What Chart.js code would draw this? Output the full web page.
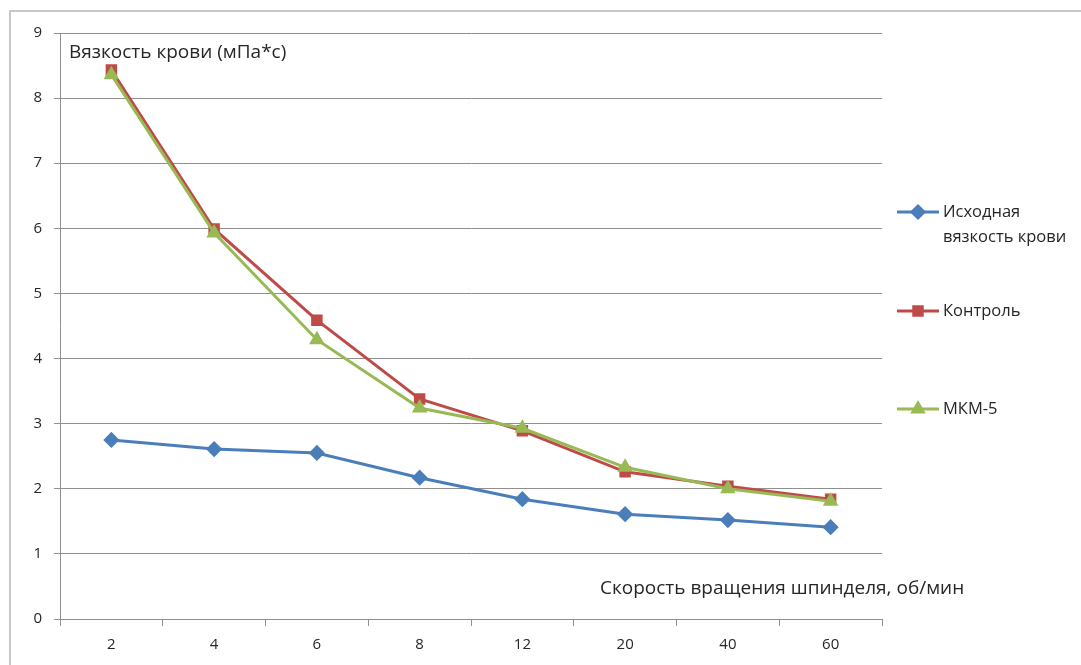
<!DOCTYPE html>
<html>
<head>
<meta charset="utf-8">
<script src="https://cdn.jsdelivr.net/npm/chart.js@4/dist/chart.umd.min.js"></script>
<style>
  html, body { margin: 0; padding: 0; background: #fff; }
  #wrap { width: 1081px; height: 665px; }
</style>
</head>
<body>
<div id="wrap"><canvas id="chart"></canvas></div>
<script>
// spindle speed, rpm
const speeds = ['2', '4', '6', '8', '12', '20', '40', '60'];

const initial = [2.75, 2.61, 2.55, 2.17, 1.84, 1.61, 1.52, 1.41];
const control = [8.43, 5.99, 4.59, 3.38, 2.89, 2.26, 2.04, 1.84];
const mkm5 = [8.36, 5.93, 4.29, 3.24, 2.93, 2.33, 2.00, 1.81];

const seriesNames = [['Исходная', 'вязкость крови'], ['Контроль'], ['МКМ-5']];
const yTicks = [0, 1, 2, 3, 4, 5, 6, 7, 8, 9];

const yTitle = 'Вязкость крови (мПа*с)';
const xTitle = 'Скорость вращения шпинделя, об/мин';

const FONT = '"Open Sans", Lato, sans-serif';
const gridGray = '#8f8f8f';

// frame lines + axis titles + legend (Excel style)
const extras = {
    id: 'extras',
    beforeDraw(chart) {
        const ctx = chart.ctx;
        ctx.save();
        ctx.strokeStyle = '#c8c8c8';
        ctx.lineWidth = 2;
        ctx.beginPath();
        ctx.moveTo(10, chart.height);
        ctx.lineTo(10, 11);
        ctx.lineTo(chart.width, 11);
        ctx.stroke();
        ctx.restore();
    },
    afterDraw(chart) {
        const ctx = chart.ctx;
        const area = chart.chartArea;
        ctx.save();
        ctx.fillStyle = '#262626';
        ctx.font = '19px ' + FONT;
        ctx.textBaseline = 'middle';
        ctx.textAlign = 'left';
        ctx.fillText(yTitle, area.left + 9, 53);
        ctx.fillText(xTitle, 600, 589);

        // legend
        const rows = [212, 311, 409];
        ctx.font = '16.5px ' + FONT;
        chart.data.datasets.forEach(function (ds, i) {
            const y = rows[i];
            const x0 = area.right + 15;
            ctx.strokeStyle = ds.borderColor;
            ctx.lineWidth = 3;
            ctx.beginPath();
            ctx.moveTo(x0, y);
            ctx.lineTo(x0 + 42, y);
            ctx.stroke();
            ctx.fillStyle = ds.borderColor;
            ctx.strokeStyle = ds.borderColor;
            Chart.helpers.drawPoint(ctx, {
                pointStyle: ds.pointStyle,
                radius: ds.pointRadius,
                rotation: 0,
                borderWidth: 1
            }, x0 + 21, y);
            ctx.fillStyle = '#262626';
            seriesNames[i].forEach(function (line, k) {
                ctx.fillText(line, x0 + 46, y + k * 25);
            });
        });
        ctx.restore();
    }
};

new Chart(document.getElementById('chart'), {
    type: 'line',
    data: {
        labels: speeds,
        datasets: [
            {
                label: seriesNames[0].join(' '),
                data: initial,
                borderColor: '#4a7ebb',
                backgroundColor: '#4a7ebb',
                pointStyle: 'rectRot',
                pointRadius: 6,
                borderWidth: 3,
                order: 3
            },
            {
                label: seriesNames[1].join(' '),
                data: control,
                borderColor: '#be4b48',
                backgroundColor: '#be4b48',
                pointStyle: 'rect',
                pointRadius: 6,
                borderWidth: 3,
                order: 2
            },
            {
                label: seriesNames[2].join(' '),
                data: mkm5,
                borderColor: '#98b954',
                backgroundColor: '#98b954',
                pointStyle: 'triangle',
                pointRadius: 6,
                borderWidth: 3,
                order: 1
            }
        ]
    },
    options: {
        responsive: true,
        maintainAspectRatio: false,
        animation: false,
        layout: { padding: { top: 33, right: 199, bottom: 0, left: 0 } },
        plugins: {
            legend: { display: false },
            tooltip: { enabled: false }
        },
        scales: {
            x: {
                offset: true,
                afterFit(scale) { scale.height = 46; },
                grid: {
                    offset: true,
                    drawOnChartArea: false,
                    drawTicks: true,
                    tickLength: 7,
                    color: gridGray
                },
                border: { display: true, color: gridGray, width: 1 },
                ticks: {
                    padding: 10,
                    color: '#262626',
                    font: { family: FONT, size: 15 }
                }
            },
            y: {
                min: 0,
                max: 9,
                afterFit(scale) { scale.width = 60; },
                afterBuildTicks(scale) {
                    scale.ticks = yTicks.map(function (v) { return { value: v }; });
                },
                grid: {
                    color: gridGray,
                    lineWidth: 1,
                    drawTicks: true,
                    tickLength: 6
                },
                border: { display: true, color: gridGray, width: 1 },
                ticks: {
                    padding: 12,
                    color: '#262626',
                    font: { family: FONT, size: 15 }
                }
            }
        }
    },
    plugins: [extras]
});
</script>
</body>
</html>
